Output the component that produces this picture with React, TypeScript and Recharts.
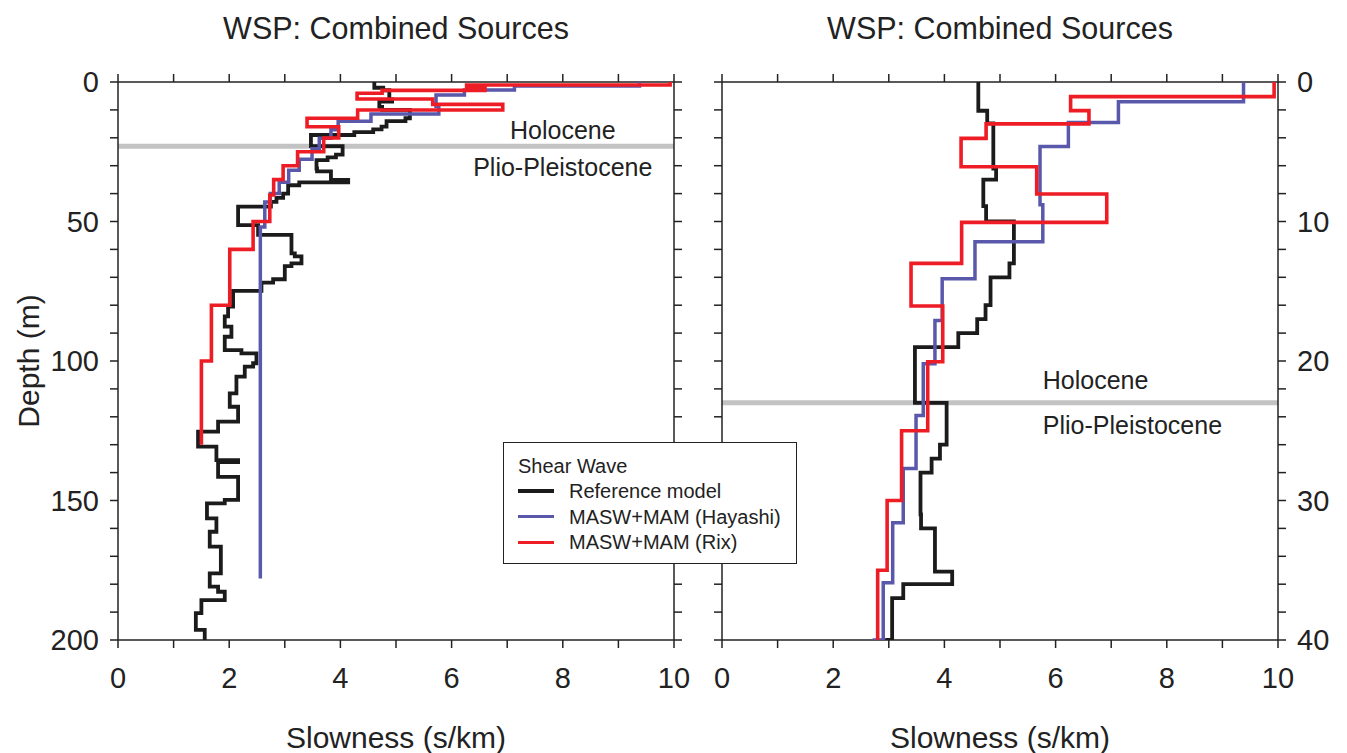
import React from "react";
import { ScatterChart, Scatter, XAxis, YAxis, ReferenceLine } from "recharts";

// axis ticks
const slownessTicks = [0, 1, 2, 3, 4, 5, 6, 7, 8, 9, 10];
const depthTicksFull = [0, 10, 20, 30, 40, 50, 60, 70, 80, 90, 100, 110, 120, 130, 140, 150, 160, 170, 180, 190, 200];
const depthTicksTop = [0, 2, 4, 6, 8, 10, 12, 14, 16, 18, 20, 22, 24, 26, 28, 30, 32, 34, 36, 38, 40];

// Reference model: layer top depths (m) and slowness (s/km)
const refTops = [
  0, 2.06, 2.96, 6.2, 7.0, 8.9, 10.0, 13.0, 14.0, 16.0, 17.0, 18.0, 19.0, 23.0, 26.0, 27.0, 28.0,
  31.0, 32.0, 35.1, 36.0, 37.0, 40.0, 41.5, 43.0, 44.7, 51.3, 54.8, 61.4, 62.5, 65.0, 66.0, 70.7,
  71.9, 74.9, 80.5, 84.0, 87.7, 91.3, 96.1, 97.3, 100.8, 102.0, 105.6, 111.6, 116.4, 121.7, 125.3,
  130.7, 135.5, 136.2, 141.5, 149.8, 151.0, 156.4, 161.2, 166.5, 176.1, 180.9, 182.7, 185.7, 190.4, 196.4,
];
const refSlowness = [
  4.61, 4.77, 4.88, 4.93, 4.7, 4.75, 5.25, 5.17, 4.83, 4.74, 4.59, 4.25, 3.47, 4.04, 3.92, 3.77, 3.57,
  3.58, 3.83, 4.14, 3.26, 3.06, 2.97, 2.85, 2.75, 2.16, 2.52, 3.12, 3.18, 3.3, 3.12, 3.0, 2.79,
  2.58, 2.07, 1.98, 1.92, 2.04, 1.92, 2.22, 2.49, 2.43, 2.28, 2.13, 2.01, 2.16, 1.8, 1.44,
  1.77, 2.16, 1.8, 2.16, 1.92, 1.6, 1.77, 1.65, 1.85, 1.65, 1.8, 1.92, 1.5, 1.4, 1.56,
];
const refBottom = 200;

// MASW+MAM (Hayashi)
const hayashiTops = [0, 1.41, 2.9, 4.63, 8.8, 11.45, 14.1, 17.1, 20.2, 23.9, 27.7, 31.6, 35.9, 40.0, 43.0, 52.0];
const hayashiSlowness = [9.38, 7.13, 6.23, 5.72, 5.77, 4.55, 3.96, 3.83, 3.62, 3.49, 3.26, 3.07, 2.9, 2.74, 2.64, 2.56];
const hayashiBottom = 178;

// MASW+MAM (Rix)
const rixTops = [0, 1.05, 2.05, 3.0, 4.04, 6.07, 8.03, 10.06, 13.0, 16.06, 20.05, 25.0, 30.0, 35.0, 40.5, 50.0, 60.0, 80.0, 100.0];
const rixSlowness = [9.93, 6.27, 6.6, 4.75, 4.3, 5.66, 6.92, 4.31, 3.4, 3.97, 3.7, 3.23, 2.97, 2.8, 2.73, 2.43, 2.01, 1.68, 1.5];
const rixBottom = 130;

const boundaryDepth = 23;
const upperUnit = "Holocene";
const lowerUnit = "Plio-Pleistocene";
const panelTitle = "WSP: Combined Sources";

const FONT = "'Liberation Sans', Arial, Helvetica, sans-serif";
const INK = "#222";

function stepProfile(tops: number[], values: number[], bottom: number) {
  const pts: { s: number; d: number }[] = [];
  tops.forEach((top, i) => {
    const base = i < tops.length - 1 ? tops[i + 1] : bottom;
    pts.push({ s: values[i], d: top }, { s: values[i], d: base });
  });
  return pts;
}

const refPoints = stepProfile(refTops, refSlowness, refBottom);
const hayashiPoints = stepProfile(hayashiTops, hayashiSlowness, hayashiBottom);
const rixPoints = stepProfile(rixTops, rixSlowness, rixBottom);

const series = [
  { name: "Reference model", data: refPoints, color: "#1b1b1b", width: 3.8 },
  { name: "MASW+MAM (Hayashi)", data: hayashiPoints, color: "#5a58aa", width: 3.5 },
  { name: "MASW+MAM (Rix)", data: rixPoints, color: "#ee1c25", width: 3.6 },
];

const NoDot = () => <g />;

const TopTitle = (props: any) => {
  const vb = props.viewBox || {};
  return (
    <text x={vb.x + vb.width / 2} y={vb.y - 44} textAnchor="middle" dominantBaseline="central" fontSize={30.5} fill={INK}>
      {panelTitle}
    </text>
  );
};

const BottomTitle = (props: any) => {
  const vb = props.viewBox || {};
  return (
    <text x={vb.x + vb.width / 2} y={vb.y + 97} textAnchor="middle" dominantBaseline="central" fontSize={30} fill={INK}>
      Slowness (s/km)
    </text>
  );
};

const DepthTitle = (props: any) => {
  const vb = props.viewBox || {};
  const cx = vb.x - 30;
  const cy = vb.y + vb.height / 2;
  return (
    <text x={cx} y={cy} textAnchor="middle" dominantBaseline="central" fontSize={30} fill={INK} transform={`rotate(-90, ${cx}, ${cy})`}>
      Depth (m)
    </text>
  );
};

const UnitLabels = (props: any) => {
  const vb = props.viewBox || {};
  const { fx, anchor, above, below } = props;
  const x = vb.x + vb.width * fx;
  return (
    <g>
      <text x={x} y={vb.y - above} textAnchor={anchor} dominantBaseline="central" fontSize={25} fill={INK}>
        {upperUnit}
      </text>
      <text x={x} y={vb.y + below} textAnchor={anchor} dominantBaseline="central" fontSize={25} fill={INK}>
        {lowerUnit}
      </text>
    </g>
  );
};

interface PanelProps {
  width: number;
  margin: { top: number; right: number; bottom: number; left: number };
  depthMax: number;
  depthTicks: number[];
  labelStep: number;
  labelSide: "left" | "right";
  unitPos: { fx: number; anchor: string; above: number; below: number };
}

function Panel({ width, margin, depthMax, depthTicks, labelStep, labelSide, unitPos }: PanelProps) {
  const depthFmt = (v: number) => (v % labelStep === 0 ? String(v) : "");
  const blankFmt = () => "";
  const tickStyle = { fill: INK, fontSize: 29 };
  return (
    <ScatterChart width={width} height={753} margin={margin}>
      <XAxis
        xAxisId="b"
        type="number"
        dataKey="s"
        domain={[0, 10]}
        ticks={slownessTicks}
        interval={0}
        tickSize={8}
        tickMargin={19}
        tickFormatter={(v: number) => (v % 2 === 0 ? String(v) : "")}
        tick={tickStyle}
        stroke={INK}
        strokeWidth={1.5}
        height={50}
        allowDataOverflow
        label={<BottomTitle />}
      />
      <XAxis
        xAxisId="t"
        orientation="top"
        type="number"
        dataKey="s"
        domain={[0, 10]}
        ticks={slownessTicks}
        interval={0}
        tickSize={8}
        tickFormatter={blankFmt}
        stroke={INK}
        strokeWidth={1.5}
        height={10}
        allowDataOverflow
        label={<TopTitle />}
      />
      <YAxis
        yAxisId="l"
        type="number"
        dataKey="d"
        reversed
        domain={[0, depthMax]}
        ticks={depthTicks}
        interval={0}
        tickSize={8}
        tickMargin={11}
        tickFormatter={labelSide === "left" ? depthFmt : blankFmt}
        tick={tickStyle}
        stroke={INK}
        strokeWidth={1.5}
        width={labelSide === "left" ? 60 : 10}
        allowDataOverflow
        label={labelSide === "left" ? <DepthTitle /> : undefined}
      />
      <YAxis
        yAxisId="r"
        orientation="right"
        type="number"
        dataKey="d"
        reversed
        domain={[0, depthMax]}
        ticks={depthTicks}
        interval={0}
        tickSize={8}
        tickMargin={11}
        tickFormatter={labelSide === "right" ? depthFmt : blankFmt}
        tick={tickStyle}
        stroke={INK}
        strokeWidth={1.5}
        width={labelSide === "right" ? 60 : 10}
        allowDataOverflow
      />
      <ReferenceLine
        xAxisId="b"
        yAxisId="l"
        y={boundaryDepth}
        stroke="#c3c3c3"
        strokeWidth={5}
        label={<UnitLabels {...unitPos} />}
      />
      {series.map((sr) => (
        <Scatter
          key={sr.name}
          name={sr.name}
          xAxisId="b"
          yAxisId="l"
          data={sr.data}
          line={{ stroke: sr.color, strokeWidth: sr.width }}
          lineType="joint"
          shape={NoDot}
          isAnimationActive={false}
        />
      ))}
      <Scatter xAxisId="t" yAxisId="r" data={[{ s: 0, d: 0 }]} shape={NoDot} isAnimationActive={false} />
    </ScatterChart>
  );
}

function LegendBox() {
  return (
    <div
      style={{
        position: "absolute",
        left: 503,
        top: 442,
        width: 292,
        height: 120,
        border: `1.5px solid ${INK}`,
        background: "#fff",
        fontSize: 20,
        color: INK,
        boxSizing: "content-box",
      }}
    >
      <div style={{ position: "absolute", left: 14, top: 11, lineHeight: "24px" }}>Shear Wave</div>
      {series.map((sr, i) => (
        <div key={sr.name} style={{ position: "absolute", left: 14, top: 36 + i * 25.7, height: 24, display: "flex", alignItems: "center" }}>
          <div style={{ width: 36, height: 3.5, background: sr.color }} />
          <div style={{ marginLeft: 15, lineHeight: "24px" }}>{sr.name}</div>
        </div>
      ))}
    </div>
  );
}

export default function App() {
  return (
    <div style={{ position: "absolute", left: 0, top: 0, width: 1347, height: 753, fontFamily: FONT, background: "#fff" }}>
      <div style={{ position: "absolute", left: 0, top: 0 }}>
        <Panel
          width={700}
          margin={{ top: 72, left: 58, right: 16, bottom: 63 }}
          depthMax={200}
          depthTicks={depthTicksFull}
          labelStep={50}
          labelSide="left"
          unitPos={{ fx: 0.8, anchor: "middle", above: 16, below: 21 }}
        />
      </div>
      <div style={{ position: "absolute", left: 690, top: 0 }}>
        <Panel
          width={657}
          margin={{ top: 72, left: 22, right: 9, bottom: 63 }}
          depthMax={40}
          depthTicks={depthTicksTop}
          labelStep={10}
          labelSide="right"
          unitPos={{ fx: 0.577, anchor: "start", above: 23, below: 22 }}
        />
      </div>
      <LegendBox />
    </div>
  );
}
